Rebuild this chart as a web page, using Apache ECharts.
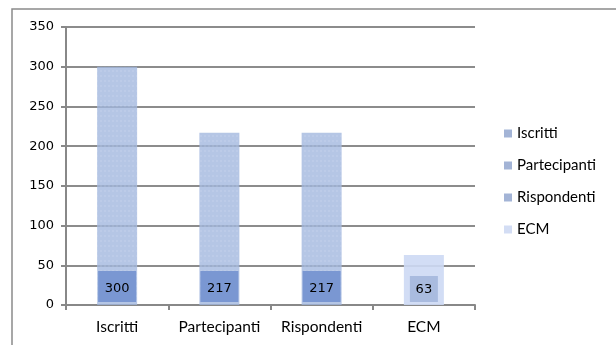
<!DOCTYPE html>
<html><head><meta charset="utf-8">
<script src="https://cdn.jsdelivr.net/npm/echarts@6/dist/echarts.min.js"></script>
<style>html,body{margin:0;padding:0;background:#fff}#c{width:616px;height:345px}</style>
</head><body><div id="c"></div>
<script>
var categories = ['Iscritti', 'Partecipanti', 'Rispondenti', 'ECM'];
var seriesNames = ['Iscritti', 'Partecipanti', 'Rispondenti', 'ECM'];
var values = [300, 217, 217, 63];
var yTicks = {min: 0, max: 350, interval: 50};

var chart = echarts.init(document.getElementById('c'));
var barColors = ['rgba(160,182,222,0.78)', 'rgba(160,182,222,0.78)', 'rgba(160,182,222,0.78)', 'rgba(205,217,244,0.9)'];
var labelBg = ['#7a97d2', '#7a97d2', '#7a97d2', '#a9bbdf'];
var legendColors = ['#a3b4d6', '#a3b4d6', '#a3b4d6', '#d3ddf4'];
var decal = {symbol: 'rect', symbolSize: 0.5, dashArrayX: [2, 2], dashArrayY: [2, 3], color: 'rgba(255,255,255,0.35)'};

var series = seriesNames.map(function (name, i) {
  var d = categories.map(function (c, j) { return j === i ? values[i] : '-'; });
  return {
    name: name, type: 'bar', stack: 'all', data: d, barWidth: i === 3 ? 42 : 40,
    itemStyle: {color: barColors[i], decal: i === 3 ? null : decal},
    label: {
      show: true, position: 'insideBottom', distance: 3,
      color: '#000', fontFamily: 'DejaVu Sans', fontSize: 13,
      backgroundColor: labelBg[i], padding: i === 3 ? [7, 3, 6, 3] : [11, 4, 7, 4],
      width: i === 3 ? 22 : 30, align: 'center'
    }
  };
});

chart.setOption({
  animation: false,
  aria: {enabled: false},
  legend: {
    orient: 'vertical', left: 499, top: 121, itemGap: 17,
    itemWidth: 8, itemHeight: 8, icon: 'rect',
    textStyle: {fontFamily: 'Lato', fontSize: 15, color: '#000'},
    data: seriesNames.map(function (n, i) { return {name: n, itemStyle: {color: legendColors[i], decal: 'none'}}; })
  },
  grid: {left: 66, top: 27, right: 141, bottom: 40, containLabel: false},
  xAxis: {
    type: 'category', data: categories, boundaryGap: true,
    axisLine: {lineStyle: {color: '#888', width: 2}},
    axisTick: {show: true, alignWithLabel: false, length: 5, lineStyle: {color: '#888', width: 2}},
    axisLabel: {color: '#000', fontFamily: 'Lato', fontSize: 15.5, margin: 14, interval: 0, hideOverlap: false}
  },
  yAxis: {
    type: 'value', min: yTicks.min, max: yTicks.max, interval: yTicks.interval,
    axisLine: {show: true, lineStyle: {color: '#888', width: 2}},
    axisTick: {show: true, inside: false, length: 5, lineStyle: {color: '#888', width: 2}},
    splitLine: {lineStyle: {color: '#8c8c8c', width: 2}},
    axisLabel: {color: '#000', fontFamily: 'DejaVu Sans', fontSize: 13, margin: 12}
  },
  graphic: [{
    type: 'rect', shape: {x: 12, y: 9, width: 620, height: 350},
    style: {fill: 'none', stroke: '#8a8a8a', lineWidth: 1.5}, z: -1
  }],
  series: series
});
</script></body></html>
